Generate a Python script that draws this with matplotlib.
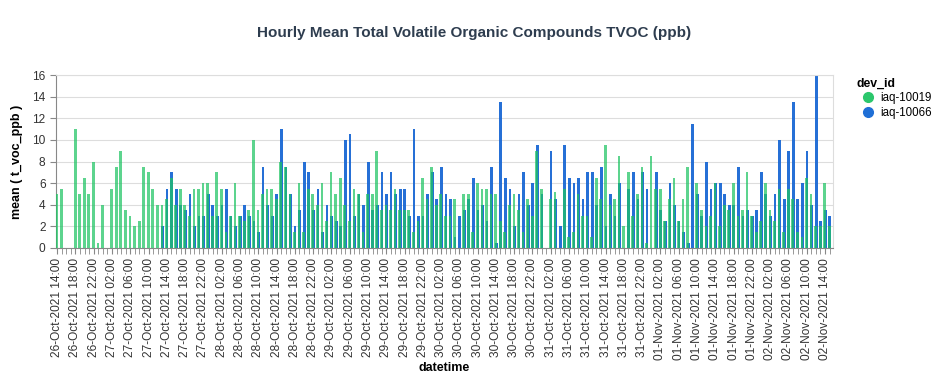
import numpy as np
import pandas as pd
import matplotlib
matplotlib.use("Agg")
import matplotlib.pyplot as plt
import matplotlib.dates as mdates
from matplotlib.lines import Line2D

plt.rcParams["font.family"] = ["Liberation Sans", "DejaVu Sans"]

nan = np.nan

# hourly mean TVOC (ppb), one value per hour from 26-Oct-2021 14:00
start_time = "2021-10-26 14:00"
series_names = ["iaq-10019", "iaq-10066"]

tvoc_10019 = [
    5.0, 5.5, nan, nan, 11.0, 5.0, 6.5, 5.0, 8.0, 0.5, 4.0, nan, 5.5, 7.5, 9.0, 3.5, 3.0, 2.0, 2.5, 7.5,
    7.0, 5.5, 4.0, 4.0, 4.5, 6.5, 4.0, 5.5, 4.0, 3.0, 5.5, 5.5, 6.0, 6.0, 3.0, 7.0, 5.5, 1.5, 3.0, 6.0,
    3.0, 2.5, 3.5, 10.0, 3.5, 5.0, 5.5, 5.5, 4.5, 8.0, 7.5, 5.0, 1.5, 6.0, 1.5, 5.5, 5.0, 4.0, 6.0, 2.5,
    7.0, 5.0, 6.5, 4.0, 2.5, 5.5, 5.0, 1.5, 5.0, 5.0, 9.0, 3.5, 4.0, 3.5, 5.5, 3.5, 3.5, 3.5, 1.5, 2.5,
    6.5, 4.5, 7.5, 4.0, 5.0, 3.0, 3.0, 4.5, nan, 5.0, 5.0, 1.5, 6.0, 5.5, 5.5, 5.0, 5.0, 2.5, 1.5, 4.0,
    5.0, 3.5, 1.5, 4.5, 3.0, 9.0, 5.5, nan, 4.5, 5.2, nan, 5.5, 1.0, 1.5, 5.0, 3.0, 3.0, 1.0, 6.5, 4.5,
    9.5, 4.0, 4.5, 8.5, 2.0, 7.0, 3.0, 5.0, 7.5, 0.5, 8.5, 5.5, 5.5, 2.5, 4.5, 6.5, 2.5, 4.5, 7.5, nan,
    6.0, 3.5, 2.0, 3.0, 6.0, 2.0, 4.0, 3.5, 6.0, 3.0, 3.5, 7.0, 3.0, 1.5, 2.5, 6.0, 3.5, 2.5, 5.5, 1.5,
    5.5, 4.5, 1.5, 1.0, 6.5, 5.0, 2.0, 2.0, 6.0, 2.0,
]

tvoc_10066 = [
    nan, nan, nan, nan, nan, nan, nan, nan, nan, nan, nan, nan, nan, nan, nan, nan, nan, nan, nan, nan,
    nan, nan, nan, 2.0, 5.5, 7.0, 5.5, 4.0, 3.5, 5.0, 2.0, 3.0, 3.0, 5.0, 4.0, 3.0, 4.0, 5.5, 3.0, 2.0,
    3.0, 4.0, 3.0, 2.5, 1.5, 7.5, 4.0, 3.0, 5.0, 11.0, 7.5, 5.0, 2.0, 3.5, 8.0, 7.0, 3.5, 5.5, 1.5, 4.0,
    3.0, 2.5, 2.0, 10.0, 10.5, 3.0, 5.0, 4.0, 8.0, 3.5, 4.0, 7.0, 5.0, 7.0, 5.0, 5.5, 5.5, 3.0, 11.0, 3.0,
    3.0, 5.0, 7.0, 4.5, 7.5, 5.0, 4.5, 1.0, 3.0, 3.5, 4.5, 6.5, 3.5, 4.0, 2.5, 7.5, 0.5, 13.5, 6.5, 5.5,
    2.0, 5.0, 7.0, 4.0, 6.0, 9.5, 5.0, nan, 9.0, 4.5, 2.0, 9.5, 6.5, 6.0, 6.5, 4.5, 7.0, 7.0, 4.0, 7.5,
    2.0, 5.0, 3.0, 6.0, nan, 5.5, 7.0, 4.5, 7.0, 5.5, nan, 7.0, 3.5, 2.5, 6.0, 4.0, 2.5, 1.5, 0.5, 11.5,
    5.0, 3.0, 8.0, 5.5, 6.0, 6.0, 5.0, 4.0, 4.0, 7.5, 3.0, 3.5, 3.0, 3.5, 7.0, 5.0, 3.0, 5.0, 10.0, 4.5,
    9.0, 13.5, 4.5, 6.0, 9.0, 4.0, 16.0, 2.5, 3.5, 3.0,
]

colors = ["#1fc463", "#1a68d4"]

times = pd.date_range(start_time, periods=len(tvoc_10019), freq="h")
x = mdates.date2num(times.to_pydatetime())
hour = 1 / 24

fig = plt.figure(figsize=(9.36, 3.82), dpi=100)
ax = fig.add_axes([56 / 936, 1 - 248 / 382, 777 / 936, 173 / 382])

# blue underneath, translucent green on top -> teal where they overlap
ax.bar(x + 0.06 * hour, tvoc_10066, width=0.6 * hour, color=colors[1], alpha=0.95,
       linewidth=0, zorder=2)
ax.bar(x - 0.06 * hour, tvoc_10019, width=0.6 * hour, color=colors[0], alpha=0.72,
       linewidth=0, zorder=3)

ax.set_ylim(0, 16)
ax.set_yticks(range(0, 17, 2))
ax.set_xlim(x[0] - 0.25 * hour, x[-1] + 0.75 * hour)

ax.xaxis.set_major_locator(mdates.HourLocator(byhour=[2, 6, 10, 14, 18, 22]))
ax.xaxis.set_minor_locator(mdates.HourLocator(interval=1))
ax.xaxis.set_major_formatter(mdates.DateFormatter("%d-%b-%Y %H:%M"))
plt.setp(ax.get_xticklabels(), rotation=90)

ax.grid(axis="y", color="#dddddd", linewidth=0.8, zorder=0)
ax.set_axisbelow(True)
for side in ["top", "right"]:
    ax.spines[side].set_color("#dddddd")
    ax.spines[side].set_linewidth(0.8)
for side in ["left", "bottom"]:
    ax.spines[side].set_color("#888888")
    ax.spines[side].set_linewidth(0.8)

ax.tick_params(axis="both", which="both", color="#888888", labelcolor="#333333",
               labelsize=8.6, length=4)
ax.tick_params(axis="x", which="minor", length=4)

ax.set_ylabel("mean ( t_voc_ppb )", fontsize=9, fontweight="bold", labelpad=7)
ax.set_xlabel("datetime", fontsize=9, fontweight="bold", labelpad=1)

fig.text(0.506, 0.913, "Hourly Mean Total Volatile Organic Compounds TVOC (ppb)",
         ha="center", va="center", fontsize=11, fontweight="bold", color="#2e3d4f")

handles = [Line2D([], [], marker="o", linestyle="", markersize=7, color=c)
           for c in ["#2bc76c", "#1f6fd6"]]
leg = fig.legend(handles, series_names, title="dev_id", loc="upper left",
                 bbox_to_anchor=(848 / 936, 1 - 70 / 382), frameon=False,
                 fontsize=8.3, title_fontproperties={"weight": "bold", "size": 8.8},
                 handletextpad=0.1, labelspacing=0.2, borderpad=0.2)
leg._legend_box.align = "left"

fig.savefig("out.png", dpi=100)
